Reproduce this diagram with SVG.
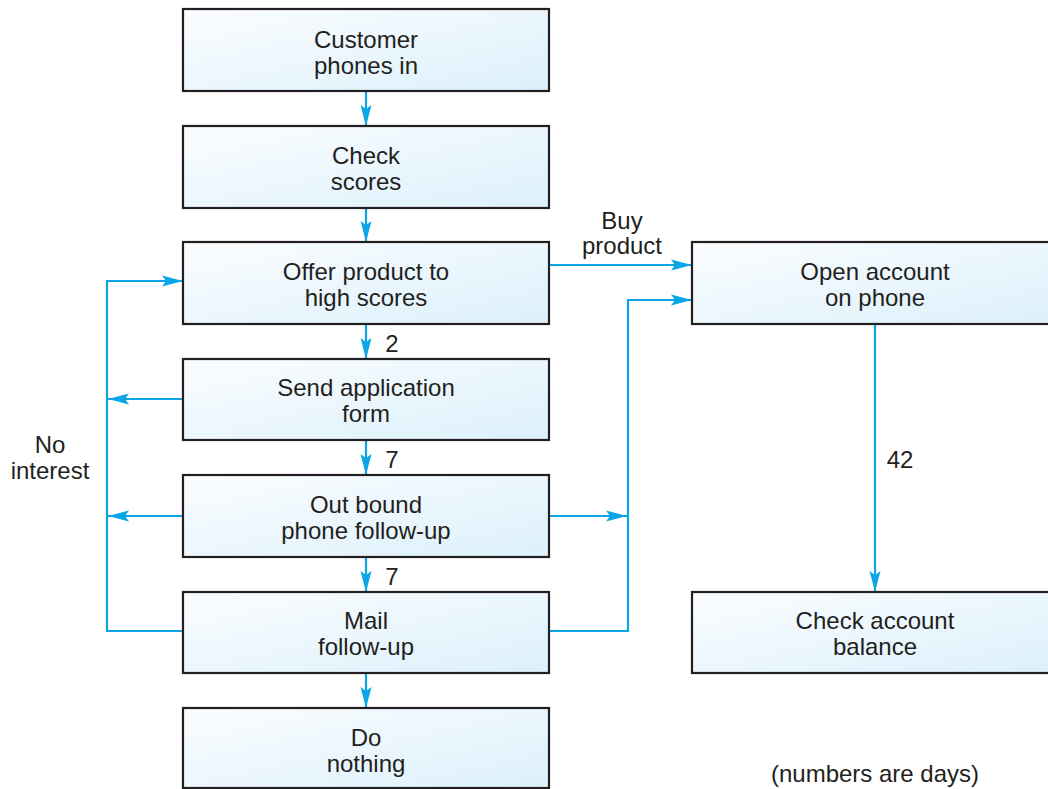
<svg xmlns="http://www.w3.org/2000/svg" width="1048" height="789" viewBox="0 0 1048 789">
<defs>
<linearGradient id="bg" x1="0" y1="0" x2="1" y2="1">
<stop offset="0" stop-color="#fbfdff"/>
<stop offset="1" stop-color="#dcf0fb"/>
</linearGradient>
<marker id="ah" markerUnits="userSpaceOnUse" markerWidth="24" markerHeight="14" viewBox="-22 -7 24 14" refX="0" refY="0" orient="auto">
<path d="M0,0 L-21,-5.5 L-17,0 L-21,5.5 Z" fill="#0aa6e6"/>
</marker>
<style>
.box{fill:url(#bg);stroke:#231f20;stroke-width:2.2}
.t{font-family:"Liberation Sans",Arial,sans-serif;font-size:24px;fill:#231f20;text-anchor:middle}
.c{fill:none;stroke:#0aa6e6;stroke-width:2.2}
.a{marker-end:url(#ah)}
</style>
</defs>
<rect width="1048" height="789" fill="#fff"/>
<g id="connectors">
<path class="c a" d="M366,91 V126"/>
<path class="c a" d="M366,208 V242"/>
<path class="c a" d="M366,324 V359"/>
<path class="c a" d="M366,440 V475"/>
<path class="c a" d="M366,557 V592"/>
<path class="c a" d="M366,673 V708"/>
<path class="c a" d="M549,265 H692"/>
<path class="c a" d="M183,631 H107 V281 H183"/>
<path class="c a" d="M183,399 H108"/>
<path class="c a" d="M183,516 H108"/>
<path class="c a" d="M549,631 H628 V300 H692"/>
<path class="c a" d="M549,516 H627"/>
<path class="c a" d="M875,324 V592"/>
</g>
<g id="n1"><rect class="box" x="183" y="9" width="366" height="82"/><text class="t" x="366" y="48">Customer</text><text class="t" x="366" y="74">phones in</text></g>
<g id="n2"><rect class="box" x="183" y="126" width="366" height="82"/><text class="t" x="366" y="164">Check</text><text class="t" x="366" y="190">scores</text></g>
<g id="n3"><rect class="box" x="183" y="242" width="366" height="82"/><text class="t" x="366" y="280">Offer product to</text><text class="t" x="366" y="306">high scores</text></g>
<g id="n4"><rect class="box" x="183" y="359" width="366" height="81"/><text class="t" x="366" y="396">Send application</text><text class="t" x="366" y="422">form</text></g>
<g id="n5"><rect class="box" x="183" y="475" width="366" height="82"/><text class="t" x="366" y="513">Out bound</text><text class="t" x="366" y="539">phone follow-up</text></g>
<g id="n6"><rect class="box" x="183" y="592" width="366" height="81"/><text class="t" x="366" y="629">Mail</text><text class="t" x="366" y="655">follow-up</text></g>
<g id="n7"><rect class="box" x="183" y="708" width="366" height="80"/><text class="t" x="366" y="746">Do</text><text class="t" x="366" y="772">nothing</text></g>
<g id="n8"><rect class="box" x="692" y="242" width="360" height="82"/><text class="t" x="875" y="280">Open account</text><text class="t" x="875" y="306">on phone</text></g>
<g id="n9"><rect class="box" x="692" y="592" width="360" height="81"/><text class="t" x="875" y="629">Check account</text><text class="t" x="875" y="655">balance</text></g>
<g id="labels">
<text class="t" x="622" y="229">Buy</text><text class="t" x="622" y="254">product</text>
<text class="t" x="50" y="453">No</text><text class="t" x="50" y="479">interest</text>
<text class="t" x="392" y="352">2</text>
<text class="t" x="392" y="468">7</text>
<text class="t" x="392" y="585">7</text>
<text class="t" x="900" y="468">42</text>
<text class="t" x="875" y="782">(numbers are days)</text>
</g>
</svg>
